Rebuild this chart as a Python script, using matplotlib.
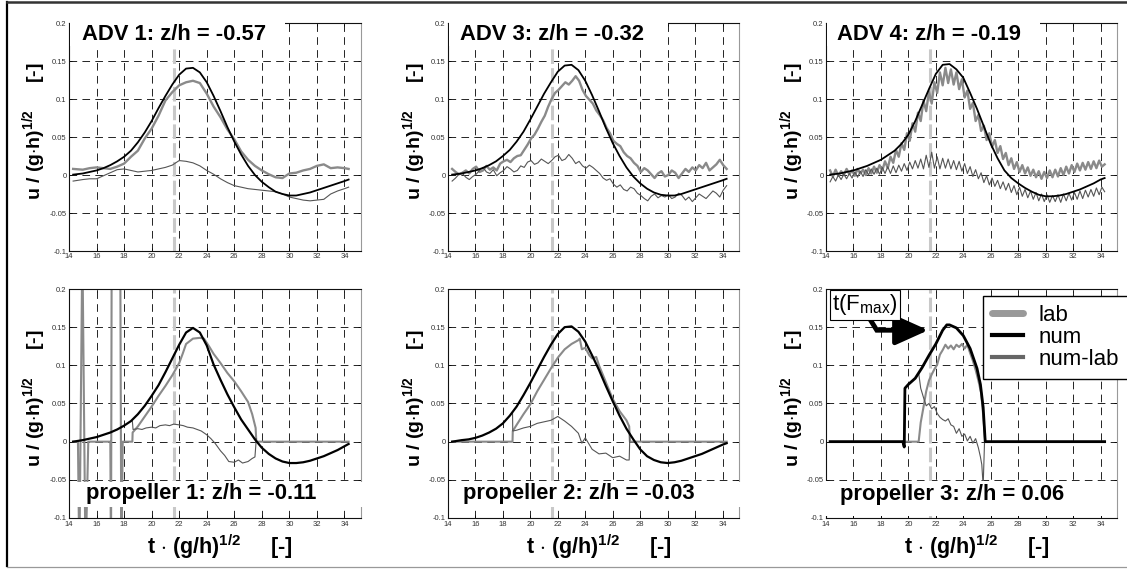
import numpy as np
import matplotlib
matplotlib.use('Agg')
import matplotlib.pyplot as plt
from matplotlib.lines import Line2D
from matplotlib.patches import Rectangle

plt.rcParams['font.family'] = ['Liberation Sans', 'DejaVu Sans']
plt.rcParams['mathtext.fontset'] = 'custom'
plt.rcParams['mathtext.rm'] = 'Liberation Sans'
plt.rcParams['mathtext.it'] = 'Liberation Sans:italic'
plt.rcParams['mathtext.bf'] = 'Liberation Sans:bold'
plt.rcParams['mathtext.default'] = 'bf'
plt.rcParams['lines.scale_dashes'] = False

# ---- data (t*(g/h)^0.5 , u/(g*h)^0.5) ----
t_coarse = [14.3, 15.0, 15.5, 16.0, 16.5, 17.0, 17.5, 18.0, 18.5, 19.0, 19.5,
            20.0, 20.5, 21.0, 21.5, 22.0, 22.5, 23.0, 23.5, 24.0, 24.5, 25.0,
            25.5, 26.0, 26.5, 27.0, 27.5, 28.0, 28.5, 29.0, 29.5, 30.0, 30.5,
            31.0, 31.5, 32.0, 32.5, 33.0, 33.5, 34.0, 34.3]
t_adv3 = np.round(np.arange(14.3, 34.31, 0.25), 2)
t_adv4 = np.round(np.arange(14.3, 34.31, 0.2), 2)
t_fmax = 21.6

adv1_num = [0.0005, 0.002, 0.004, 0.006, 0.009, 0.013, 0.018, 0.024, 0.032, 0.043, 0.056,
            0.071, 0.088, 0.104, 0.119, 0.132, 0.140, 0.141, 0.135, 0.122, 0.104, 0.084,
            0.063, 0.044, 0.027, 0.012, 0.000, -0.009, -0.016, -0.022, -0.025, -0.027, -0.027,
            -0.025, -0.023, -0.020, -0.017, -0.014, -0.011, -0.008, -0.006]
adv1_lab = [0.008, 0.007, 0.009, 0.010, 0.009, 0.008, 0.011, 0.015, 0.024, 0.032, 0.048,
            0.061, 0.078, 0.098, 0.109, 0.118, 0.122, 0.124, 0.121, 0.107, 0.090, 0.076,
            0.060, 0.047, 0.031, 0.020, 0.012, 0.006, 0.001, -0.003, -0.004, 0.002, 0.003,
            0.006, 0.008, 0.012, 0.014, 0.009, 0.010, 0.009, 0.008]
adv1_diff = [-0.008, -0.006, -0.005, -0.005, -0.001, 0.003, 0.007, 0.008, 0.006, 0.004, 0.005,
             0.006, 0.008, 0.010, 0.013, 0.019, 0.018, 0.016, 0.012, 0.006, 0.001, -0.005,
             -0.010, -0.014, -0.016, -0.018, -0.019, -0.020, -0.021, -0.022, -0.025, -0.029, -0.031,
             -0.033, -0.034, -0.033, -0.032, -0.025, -0.021, -0.018, -0.016]

adv3_num = [0.0005, 0.002, 0.004, 0.006, 0.009, 0.013, 0.018, 0.025, 0.033, 0.044, 0.057,
            0.073, 0.090, 0.107, 0.122, 0.136, 0.144, 0.145, 0.138, 0.124, 0.105, 0.084,
            0.062, 0.042, 0.025, 0.010, -0.002, -0.011, -0.018, -0.023, -0.026, -0.027, -0.027,
            -0.025, -0.022, -0.019, -0.016, -0.013, -0.010, -0.007, -0.005]
adv3_lab = [0.008, 0.004, 0.001, 0.003, 0.006, 0.002, 0.008, 0.011, 0.004, 0.006,
            0.012, 0.007, 0.010, 0.006, 0.015, 0.018, 0.020, 0.017, 0.022, 0.025,
            0.026, 0.033, 0.040, 0.048, 0.053, 0.061, 0.070, 0.078, 0.090, 0.100,
            0.108, 0.112, 0.117, 0.122, 0.119, 0.124, 0.130, 0.124, 0.112, 0.104,
            0.099, 0.094, 0.085, 0.079, 0.072, 0.062, 0.055, 0.045, 0.041, 0.038,
            0.030, 0.025, 0.022, 0.016, 0.012, 0.004, 0.009, 0.006, 0.001, -0.004,
            0.002, 0.005, -0.002, 0.000, 0.006, 0.003, -0.004, 0.002, 0.008, 0.004,
            0.010, 0.006, 0.013, 0.009, 0.016, 0.006, 0.010, 0.014, 0.020, 0.013,
            0.008]
adv3_diff = [-0.008, -0.004, 0.001, 0.002, -0.003, -0.006, -0.002, 0.001, 0.006, 0.010,
             0.004, 0.002, 0.007, -0.001, 0.003, 0.006, 0.011, 0.008, 0.004, 0.006,
             0.012, 0.010, 0.017, 0.019, 0.014, 0.016, 0.021, 0.018, 0.015, 0.019,
             0.024, 0.026, 0.019, 0.021, 0.027, 0.022, 0.015, 0.018, 0.012, 0.009,
             0.013, 0.010, 0.006, 0.002, -0.004, -0.007, -0.005, -0.012, -0.016, -0.013,
             -0.019, -0.021, -0.016, -0.018, -0.024, -0.027, -0.031, -0.034, -0.028, -0.025,
             -0.030, -0.027, -0.029, -0.026, -0.031, -0.029, -0.024, -0.027, -0.033, -0.029,
             -0.035, -0.030, -0.025, -0.028, -0.031, -0.026, -0.021, -0.024, -0.029, -0.020,
             -0.014]

adv4_num = [0.0005, 0.002, 0.004, 0.006, 0.009, 0.012, 0.016, 0.020, 0.026, 0.032, 0.041,
            0.053, 0.071, 0.092, 0.113, 0.133, 0.145, 0.146, 0.139, 0.128, 0.108, 0.087,
            0.064, 0.041, 0.022, 0.006, -0.004, -0.011, -0.017, -0.022, -0.026, -0.028, -0.028,
            -0.027, -0.025, -0.022, -0.019, -0.015, -0.011, -0.006, -0.004]
adv4_lab = [0.006, -0.002, 0.007, -0.001, 0.005, 0.000, 0.008, 0.001, 0.006, -0.001,
            0.008, 0.002, 0.007, 0.000, 0.009, 0.002, 0.011, 0.003, 0.013, 0.006,
            0.018, 0.009, 0.024, 0.016, 0.033, 0.024, 0.042, 0.033, 0.055, 0.045,
            0.068, 0.057, 0.082, 0.071, 0.098, 0.084, 0.110, 0.094, 0.122, 0.108,
            0.135, 0.118, 0.141, 0.121, 0.139, 0.119, 0.135, 0.113, 0.126, 0.102,
            0.111, 0.087, 0.095, 0.071, 0.079, 0.058, 0.065, 0.046, 0.055, 0.037,
            0.046, 0.029, 0.038, 0.021, 0.029, 0.013, 0.022, 0.008, 0.017, 0.004,
            0.013, 0.002, 0.010, -0.001, 0.007, -0.003, 0.005, -0.005, 0.004, -0.004,
            0.006, -0.003, 0.007, -0.002, 0.009, 0.000, 0.011, 0.002, 0.013, 0.004,
            0.015, 0.006, 0.016, 0.007, 0.017, 0.008, 0.018, 0.009, 0.019, 0.011,
            0.014]
adv4_diff = [-0.009, -0.002, -0.008, 0.000, -0.006, 0.001, -0.005, 0.002, -0.004, 0.004,
             -0.003, 0.005, -0.002, 0.007, 0.000, 0.008, 0.001, 0.009, 0.001, 0.010,
             0.002, 0.011, 0.002, 0.012, 0.003, 0.013, 0.005, 0.015, 0.006, 0.017,
             0.008, 0.019, 0.009, 0.021, 0.008, 0.026, 0.010, 0.030, 0.009, 0.024,
             0.008, 0.022, 0.009, 0.021, 0.008, 0.019, 0.007, 0.018, 0.005, 0.015,
             0.002, 0.011, -0.002, 0.007, -0.005, 0.003, -0.010, -0.001, -0.013, -0.004,
             -0.015, -0.007, -0.018, -0.009, -0.020, -0.011, -0.023, -0.014, -0.026, -0.016,
             -0.028, -0.019, -0.030, -0.021, -0.032, -0.023, -0.034, -0.025, -0.035, -0.026,
             -0.036, -0.027, -0.035, -0.026, -0.036, -0.025, -0.034, -0.024, -0.033, -0.023,
             -0.032, -0.021, -0.031, -0.020, -0.029, -0.019, -0.028, -0.017, -0.026, -0.016,
             -0.022]

prop1_num = [0.000, 0.002, 0.004, 0.006, 0.009, 0.012, 0.016, 0.021, 0.027, 0.036, 0.047,
             0.060, 0.074, 0.091, 0.109, 0.127, 0.143, 0.149, 0.143, 0.126, 0.101, 0.081,
             0.062, 0.045, 0.029, 0.016, 0.003, -0.008, -0.016, -0.022, -0.026, -0.028, -0.028,
             -0.027, -0.025, -0.022, -0.019, -0.015, -0.011, -0.006, -0.003]
prop1_lab_t = [14.3, 14.65, 14.75, 14.97, 15.2, 15.4, 17.0, 17.05, 17.1, 17.72, 17.8, 17.9,
               18.6, 18.62, 19.0, 19.5, 20.0, 20.5, 21.0, 21.5, 22.0, 22.25, 22.5, 23.0,
               23.5, 23.8, 24.2, 24.5, 25.0, 25.5, 26.0, 26.5, 27.0, 27.3, 27.55, 27.6, 34.3]
prop1_lab = [0, 0, -0.16, 0.26, -0.16, 0, 0, -0.16, 0.26, 0.26, -0.16, 0,
             0, 0.012, 0.020, 0.033, 0.046, 0.060, 0.073, 0.087, 0.103, 0.115, 0.128, 0.135,
             0.136, 0.135, 0.124, 0.115, 0.103, 0.090, 0.079, 0.066, 0.052, 0.036, 0.018, 0.0, 0.0]
prop1_diff_t = [18.6, 18.65, 19.0, 19.3, 19.6, 20.0, 20.3, 20.6, 21.0, 21.3, 21.6, 22.0,
                22.3, 22.6, 23.0, 23.3, 23.6, 24.0, 24.3, 24.6, 25.0, 25.3, 25.6, 26.0,
                26.3, 26.6, 27.0, 27.3, 27.5, 27.6]
prop1_diff = [0.027, 0.016, 0.017, 0.016, 0.018, 0.019, 0.018, 0.021, 0.022, 0.021, 0.023, 0.022,
              0.021, 0.019, 0.018, 0.016, 0.014, 0.009, 0.004, -0.002, -0.012, -0.018, -0.026, -0.027,
              -0.024, -0.028, -0.026, -0.022, -0.020, 0.004]

prop2_num = [0.000, 0.002, 0.003, 0.005, 0.008, 0.012, 0.017, 0.024, 0.034, 0.046, 0.061,
             0.077, 0.094, 0.111, 0.127, 0.141, 0.150, 0.151, 0.144, 0.131, 0.113, 0.094,
             0.073, 0.053, 0.034, 0.017, 0.003, -0.010, -0.019, -0.024, -0.027, -0.028, -0.027,
             -0.025, -0.022, -0.019, -0.016, -0.012, -0.008, -0.004, -0.002]
prop2_lab_t = [14.3, 18.7, 18.72, 19.0, 19.5, 20.0, 20.5, 21.0, 21.5, 22.0, 22.5, 23.0, 23.5,
               23.6, 23.75, 24.0, 24.3, 24.5, 24.8, 25.0, 25.5, 26.0, 26.5, 27.0, 27.2, 27.25, 34.3]
prop2_lab = [0, 0, 0.014, 0.022, 0.036, 0.049, 0.066, 0.081, 0.096, 0.110, 0.121, 0.128, 0.133,
             0.135, 0.121, 0.123, 0.113, 0.109, 0.111, 0.100, 0.078, 0.056, 0.040, 0.028, 0.020, 0.0, 0.0]
prop2_diff_t = [18.7, 18.72, 19.0, 19.5, 20.0, 20.5, 21.0, 21.5, 22.0, 22.5, 23.0, 23.5,
                23.75, 24.0, 24.5, 25.0, 25.5, 26.0, 26.5, 27.0, 27.2, 27.25]
prop2_diff = [0.038, 0.014, 0.015, 0.018, 0.020, 0.024, 0.026, 0.028, 0.033, 0.027, 0.020, 0.011,
              -0.002, 0.005, -0.010, -0.016, -0.015, -0.021, -0.019, -0.024, -0.024, 0.009]

prop3_num_t = [14.3, 19.6, 19.7, 19.75, 20.0, 20.5, 21.0, 21.5, 22.0, 22.5, 22.8, 23.0,
               23.5, 24.0, 24.5, 25.0, 25.25, 25.45, 25.6, 34.3]
prop3_num = [0.0, 0.0, -0.007, 0.070, 0.075, 0.083, 0.097, 0.113, 0.128, 0.146, 0.153, 0.153,
             0.149, 0.139, 0.122, 0.096, 0.075, 0.045, 0.0, 0.0]
prop3_lab_t = [14.3, 20.75, 20.9, 21.1, 21.3, 21.5, 21.7, 21.9, 22.1, 22.3, 22.5, 22.7, 22.9,
               23.1, 23.3, 23.5, 23.7, 23.9, 24.1, 24.3, 24.5, 24.7, 24.9, 25.1, 25.3, 25.45, 25.6, 34.3]
prop3_lab = [0.0, 0.0, 0.025, 0.045, 0.066, 0.080, 0.088, 0.095, 0.101, 0.114, 0.120, 0.127, 0.122,
             0.126, 0.121, 0.127, 0.124, 0.128, 0.122, 0.127, 0.116, 0.106, 0.094, 0.080, 0.064, 0.035, 0.0, 0.0]
prop3_diff_t = [20.75, 20.9, 21.1, 21.3, 21.5, 21.7, 21.9, 22.1, 22.3, 22.5, 22.7, 22.9, 23.1,
                23.3, 23.5, 23.7, 23.9, 24.1, 24.3, 24.5, 24.7, 24.9, 25.1, 25.25, 25.35, 25.45, 25.55]
prop3_diff = [0.090, 0.070, 0.058, 0.047, 0.050, 0.043, 0.046, 0.037, 0.032, 0.029, 0.027, 0.030, 0.022,
              0.020, 0.011, 0.017, 0.007, 0.010, 0.001, 0.007, -0.002, 0.004, -0.008, -0.020, -0.030, -0.058, 0.0]

titles = ['ADV 1: z/h = -0.57', 'ADV 3: z/h = -0.32', 'ADV 4: z/h = -0.19',
          'propeller 1: z/h = -0.11', 'propeller 2: z/h = -0.03', 'propeller 3: z/h = 0.06']
xticks = [14, 16, 18, 20, 22, 24, 26, 28, 30, 32, 34]
yticks = [-0.1, -0.05, 0, 0.05, 0.1, 0.15, 0.2]
ytick_labels = ['-0.1', '-0.05', '0', '0.05', '0.1', '0.15', '0.2']

C_LAB = '#8a8a8a'
C_NUM = 'black'
C_DIFF = '#555555'

W, H = 1127, 569
fig = plt.figure(figsize=(W / 100, H / 100), dpi=100)

# axes boxes in pixels: left, top, right, bottom
boxes = [(69, 23, 361, 251), (448, 23, 739, 251), (826, 23, 1117, 251),
         (69, 289, 361, 518), (448, 289, 739, 518), (826, 289, 1117, 518)]
axes = []
for (l, t, r, b) in boxes:
    ax = fig.add_axes([l / W, 1 - b / H, (r - l) / W, (b - t) / H])
    axes.append(ax)

series = [
    [(t_coarse, adv1_lab, C_LAB, 1.7, 2), (t_coarse, adv1_diff, C_DIFF, 0.8, 2.1), (t_coarse, adv1_num, C_NUM, 1.3, 3)],
    [(t_adv3, adv3_lab, C_LAB, 1.7, 2), (t_adv3, adv3_diff, C_DIFF, 0.8, 2.1), (t_coarse, adv3_num, C_NUM, 1.3, 3)],
    [(t_adv4, adv4_lab, C_LAB, 1.7, 2), (t_adv4, adv4_diff, C_DIFF, 0.8, 2.1), (t_coarse, adv4_num, C_NUM, 1.3, 3)],
    [(prop1_lab_t, prop1_lab, C_LAB, 1.5, 2), (prop1_diff_t, prop1_diff, C_DIFF, 0.8, 2.1), (t_coarse, prop1_num, C_NUM, 1.6, 3)],
    [(prop2_lab_t, prop2_lab, C_LAB, 1.5, 2), (prop2_diff_t, prop2_diff, C_DIFF, 0.8, 2.1), (t_coarse, prop2_num, C_NUM, 1.6, 3)],
    [(prop3_lab_t, prop3_lab, C_LAB, 1.5, 2), (prop3_diff_t, prop3_diff, C_DIFF, 0.8, 2.1), (prop3_num_t, prop3_num, C_NUM, 2.0, 3)],
]

# white label boxes (axes fractions: x0, x1, y0, y1) and text anchor (x, baseline y)
label_boxes = [(0.004, 0.74, 0.899, 1.02), (0.004, 0.756, 0.899, 1.02), (0.004, 0.735, 0.899, 1.02),
               (0.02, 1.01, 0.048, 0.157), (0.02, 1.01, 0.048, 0.157), (-0.01, 0.97, 0.01, 0.163)]
label_pos = [(0.043, 0.925), (0.041, 0.925), (0.037, 0.925),
             (0.058, 0.082), (0.052, 0.082), (0.048, 0.078)]

for i, ax in enumerate(axes):
    ax.set_xlim(14, 35.2)
    ax.set_ylim(-0.1, 0.2)
    ax.set_xticks(xticks)
    ax.set_yticks(yticks)
    ax.set_yticklabels(ytick_labels)
    ax.grid(True, color='black', lw=0.6, ls=(0, (5.5, 3.8)))
    ax.set_axisbelow(True)
    ax.tick_params(direction='in', length=2.5, width=0.5, labelsize=5.5, labelcolor='#333333',
                   pad=1.8, top=True, right=True)
    for side in ['left', 'bottom', 'top']:
        ax.spines[side].set_color('#111111')
        ax.spines[side].set_linewidth(0.8)
    ax.spines['right'].set_color('#999999')
    ax.spines['right'].set_linewidth(0.8)

    ax.axvline(t_fmax, color='#c8c8c8', lw=2.2, ls=(0, (10.5, 3.0)), zorder=1.5)
    for (tt, yy, c, lw, z) in series[i]:
        ax.plot(tt, yy, color=c, lw=lw, zorder=z, solid_joinstyle='round')

    x0, x1, y0, y1 = label_boxes[i]
    ax.add_patch(Rectangle((x0, y0), x1 - x0, y1 - y0, transform=ax.transAxes,
                           facecolor='white', edgecolor='none', zorder=5, clip_on=False))
    lx, ly = label_pos[i]
    ax.text(lx, ly, titles[i], transform=ax.transAxes, fontsize=15.8, fontweight='bold',
            ha='left', va='baseline', zorder=6)

    ax.text(-0.118, 0.525, 'u / (g$\\cdot$h)$^{1/2}$     [-]', transform=ax.transAxes,
            rotation=90, fontsize=14, fontweight='bold', ha='center', va='center')
    if i >= 3:
        ax.text(0.517, -0.127, 't $\\cdot$ (g/h)$^{1/2}$     [-]', transform=ax.transAxes,
                fontsize=15.5, fontweight='bold', ha='center', va='center')

# t(F_max) callout in the last panel
ax6 = axes[5]
ax6.text(0.021, 0.985, 't(F$_{\\mathrm{max}}$)', transform=ax6.transAxes, fontsize=16,
         fontweight='normal', ha='left', va='top', zorder=8,
         bbox=dict(boxstyle='square,pad=0.1', facecolor='white', edgecolor='black', lw=0.8))
ax6.plot([17.08, 17.7, 20.2], [0.164, 0.146, 0.146], color='black', lw=3.5,
         solid_joinstyle='miter', zorder=7)
ax6.annotate('', xy=(21.45, 0.146), xytext=(19.8, 0.146),
             arrowprops=dict(arrowstyle='-|>,head_length=1.0,head_width=0.45', color='black',
                             lw=3.5, mutation_scale=20, shrinkA=0, shrinkB=0), zorder=7)

handles = [Line2D([], [], color='#999999', lw=5, solid_capstyle='round'),
           Line2D([], [], color='black', lw=3),
           Line2D([], [], color='#666666', lw=3)]
fig.legend(handles, ['lab', 'num', 'num-lab'], loc='upper left',
           bbox_to_anchor=(983 / W, 1 - 384 / H, 146 / W, 88 / H), mode='expand',
           fontsize=16, frameon=True, fancybox=False, edgecolor='black', framealpha=1,
           handlelength=1.4, handletextpad=0.7, labelspacing=0.05, borderpad=0.4,
           borderaxespad=0)

# outer frame of the figure
fig.add_artist(Line2D([7 / W, 7 / W], [1 - 566 / H, 1 - 2 / H], transform=fig.transFigure,
                      color='black', lw=1.6))
fig.add_artist(Line2D([7 / W, 1], [1 - 2 / H, 1 - 2 / H], transform=fig.transFigure,
                      color='#333333', lw=1.8))
fig.add_artist(Line2D([7 / W, 1], [1 - 566.5 / H, 1 - 566.5 / H], transform=fig.transFigure,
                      color='#999999', lw=0.9))

fig.savefig('out.png', dpi=100)
